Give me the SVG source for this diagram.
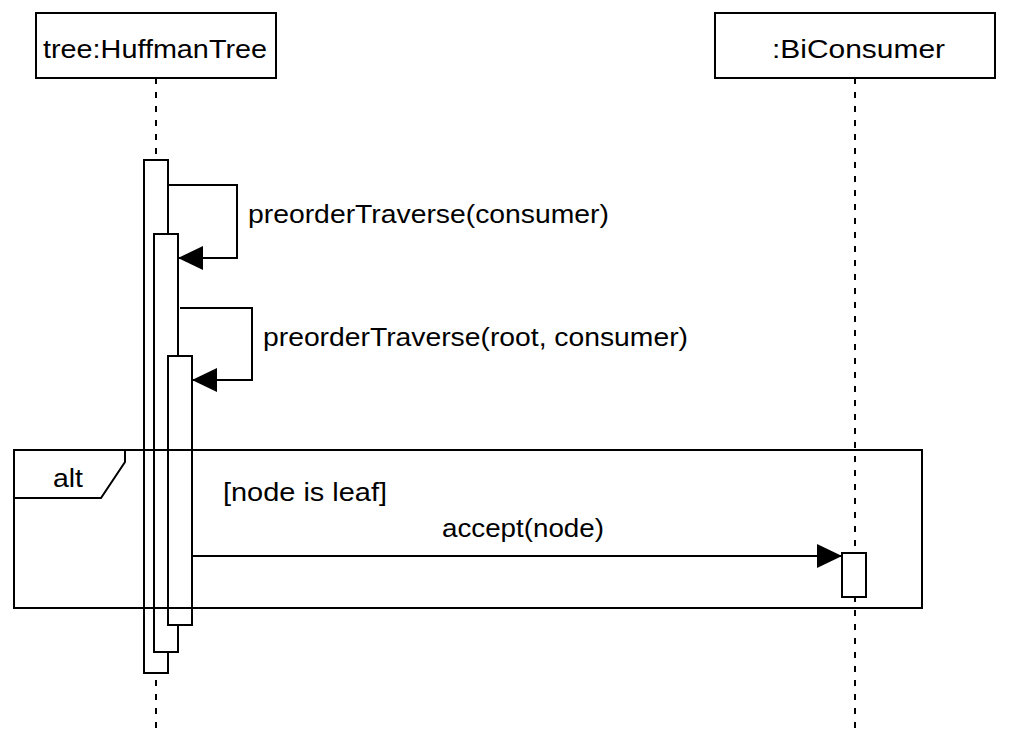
<svg xmlns="http://www.w3.org/2000/svg" width="1010" height="756" viewBox="0 0 1010 756">
<style>
.box{fill:#fff;stroke:#000;stroke-width:2}
.life{fill:none;stroke:#000;stroke-width:2;stroke-dasharray:6 8}
.act{fill:#fff;stroke:#000;stroke-width:2}
.msg{fill:none;stroke:#000;stroke-width:2}
.frame{fill:none;stroke:#000;stroke-width:2}
text{font-family:"Liberation Sans",Arial,sans-serif;font-size:25px;fill:#000}
</style>
<defs>
<marker id="arrow" markerUnits="userSpaceOnUse" markerWidth="26" markerHeight="26" viewBox="0 0 26 26" refX="25" refY="13" orient="auto">
<path d="M0,1 L25,13 L0,25 Z" fill="#000"/>
</marker>
</defs>
<rect width="1010" height="756" fill="#fff"/>
<g id="lifeline-tree">
<line class="life" x1="156" y1="78" x2="156" y2="733"/>
<rect class="box" x="36" y="13" width="240" height="65"/>
<text x="43" y="58" textLength="224" lengthAdjust="spacingAndGlyphs">tree:HuffmanTree</text>
</g>
<g id="lifeline-consumer">
<line class="life" x1="855" y1="78" x2="855" y2="733"/>
<rect class="box" x="715" y="13" width="280" height="65"/>
<text x="772" y="58" textLength="173" lengthAdjust="spacingAndGlyphs">:BiConsumer</text>
</g>
<g id="activations">
<rect class="act" x="144" y="160" width="24" height="513"/>
<rect class="act" x="154" y="234" width="24" height="418"/>
<rect class="act" x="168" y="356" width="24" height="269"/>
<rect class="act" x="842" y="553" width="24" height="44"/>
</g>
<g id="alt-frame">
<rect class="frame" x="14" y="450" width="908" height="158"/>
<path class="frame" d="M14,498 H101 L125,462 V450"/>
<text x="53" y="487" textLength="30" lengthAdjust="spacingAndGlyphs">alt</text>
<text x="223" y="501" textLength="164" lengthAdjust="spacingAndGlyphs">[node is leaf]</text>
</g>
<g id="connectors">
<path class="msg" d="M168,185 H237 V258 H178" marker-end="url(#arrow)"/>
<path class="msg" d="M180,308 H252 V380 H192" marker-end="url(#arrow)"/>
<path class="msg" d="M192,556 H842" marker-end="url(#arrow)"/>
</g>
<g id="labels">
<text x="248" y="223" textLength="361" lengthAdjust="spacingAndGlyphs">preorderTraverse(consumer)</text>
<text x="263" y="346" textLength="425" lengthAdjust="spacingAndGlyphs">preorderTraverse(root, consumer)</text>
<text x="442" y="537" textLength="162" lengthAdjust="spacingAndGlyphs">accept(node)</text>
</g>
</svg>
